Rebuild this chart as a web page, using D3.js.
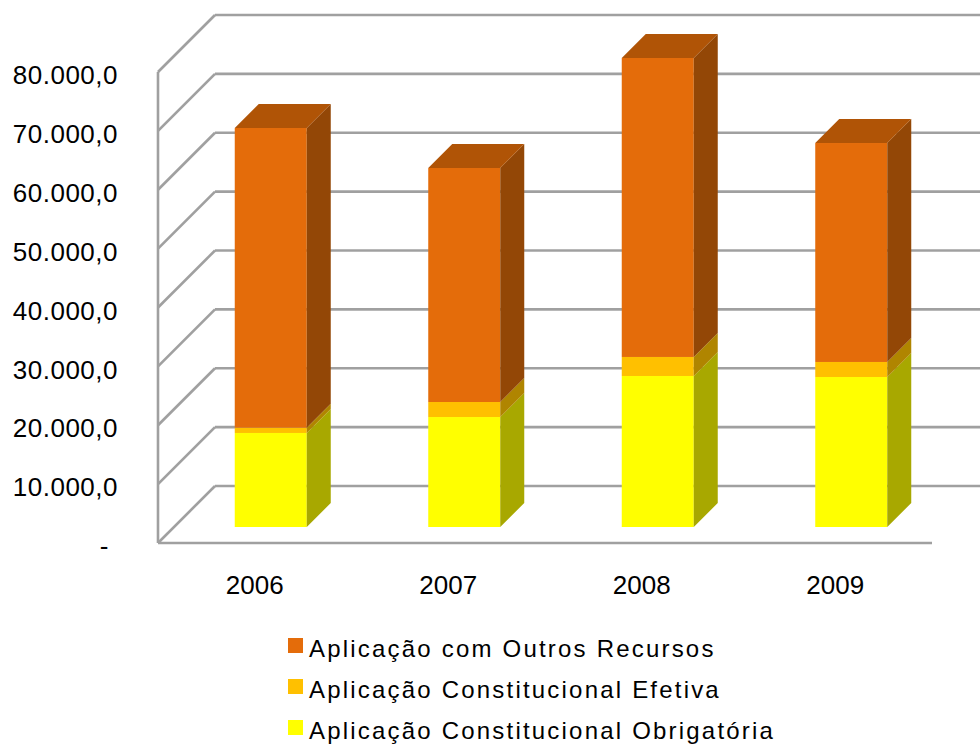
<!DOCTYPE html>
<html>
<head>
<meta charset="utf-8">
<script src="https://cdn.jsdelivr.net/npm/d3@7"></script>
<style>
  html, body { margin: 0; padding: 0; background: #fff; }
  svg { display: block; }
  text { font-family: "Liberation Sans", Arial, sans-serif; fill: #000; }
</style>
</head>
<body>
<svg id="chart" width="980" height="753"></svg>
<script>
// ---- data ----
const years = ["2006", "2007", "2008", "2009"];
const seriesNames = [
  "Aplicação Constitucional Obrigatória",
  "Aplicação Constitucional Efetiva",
  "Aplicação com Outros Recursos"
];
const obrigatoria = [15970, 18680, 25650, 25480];
const efetiva     = [900, 2550, 3230, 2550];
const outros      = [50900, 39750, 50780, 37190];
const yTicks = [0, 10000, 20000, 30000, 40000, 50000, 60000, 70000, 80000];
const legendOrder = ["Aplicação com Outros Recursos", "Aplicação Constitucional Efetiva", "Aplicação Constitucional Obrigatória"];

// ---- styles ----
const colors = {
  "Aplicação Constitucional Obrigatória": {front: "#FFFF00", side: "#A8A800", top: "#D8D800"},
  "Aplicação Constitucional Efetiva":     {front: "#FFC000", side: "#B08500", top: "#D9A300"},
  "Aplicação com Outros Recursos":        {front: "#E46C0A", side: "#934706", top: "#B05406"}
};
const gridColor = "#a0a0a0";

const svg = d3.select("#chart");
const WALL = 57;       // depth of the 3D walls
const BAR_D0 = 16;     // depth of bar front plane
const BAR_DEPTH = 24;  // bar depth
const BAR_W = 72;

const y = d3.scaleLinear().domain([0, 80000]).range([543, 72]);
const x = d3.scaleBand().domain(years).range([158, 932]);

// ---- walls / gridlines ----
const grid = svg.append("g").attr("fill", "none").attr("stroke", gridColor).attr("stroke-width", 2.6);
yTicks.forEach(v => {
  const yf = y(v);
  grid.append("line").attr("x1", 158 + WALL).attr("x2", 932 + WALL)
    .attr("y1", yf - WALL).attr("y2", yf - WALL);
  grid.append("line").attr("x1", 158).attr("y1", yf)
    .attr("x2", 158 + WALL).attr("y2", yf - WALL);
});
grid.append("line").attr("x1", 158).attr("x2", 158).attr("y1", y(80000)).attr("y2", y(0));
grid.append("line").attr("x1", 158).attr("x2", 932).attr("y1", y(0)).attr("y2", y(0));

// ---- bars ----
const stackData = years.map((yr, i) => ({
  year: yr,
  "Aplicação Constitucional Obrigatória": obrigatoria[i],
  "Aplicação Constitucional Efetiva": efetiva[i],
  "Aplicação com Outros Recursos": outros[i]
}));
const stacked = d3.stack().keys(seriesNames)(stackData);

const bars = svg.append("g");
years.forEach((yr, i) => {
  const cx = x(yr) + x.bandwidth() / 2 + BAR_D0;
  const x0 = cx - BAR_W / 2, x1 = cx + BAR_W / 2;
  const g = bars.append("g");
  stacked.forEach((layer, li) => {
    const c = colors[layer.key];
    const v0 = layer[i][0], v1 = layer[i][1];
    const yb = y(v0) - BAR_D0, yt = y(v1) - BAR_D0;
    g.append("rect").attr("x", x0).attr("y", yt).attr("width", BAR_W).attr("height", yb - yt)
      .attr("fill", c.front);
    g.append("polygon").attr("points", [
      [x1, yb], [x1, yt], [x1 + BAR_DEPTH, yt - BAR_DEPTH], [x1 + BAR_DEPTH, yb - BAR_DEPTH]
    ].map(p => p.join(",")).join(" ")).attr("fill", c.side);
    if (li === stacked.length - 1) {
      g.append("polygon").attr("points", [
        [x0, yt], [x1, yt], [x1 + BAR_DEPTH, yt - BAR_DEPTH], [x0 + BAR_DEPTH, yt - BAR_DEPTH]
      ].map(p => p.join(",")).join(" ")).attr("fill", c.top);
    }
  });
});

// ---- y axis labels ----
const loc = d3.formatLocale({decimal: ",", thousands: ".", grouping: [3], currency: ["R$", ""]});
const fmt = loc.format(",.1f");
const yAxis = d3.axisLeft(y).tickValues(yTicks).tickSize(0).tickPadding(0)
  .tickFormat(v => v === 0 ? "-" : fmt(v));
const yg = svg.append("g").attr("transform", "translate(118,0)").call(yAxis);
yg.select(".domain").remove();
yg.selectAll("text")
  .style("font-family", '"Liberation Sans", Arial, sans-serif')
  .style("font-size", "26px")
  .style("letter-spacing", "0.5px")
  .attr("fill", "#000")
  .attr("dy", "0.45em")
  .attr("dx", v => v === 0 ? -9 : 0);

// ---- x axis labels ----
const xAxis = d3.axisBottom(x).tickSize(0).tickPadding(0);
const xg = svg.append("g").attr("transform", "translate(0,585)").call(xAxis);
xg.select(".domain").remove();
xg.selectAll("text")
  .style("font-family", '"Liberation Sans", Arial, sans-serif')
  .style("font-size", "26px")
  .attr("fill", "#000")
  .attr("y", 0)
  .attr("dy", "0.35em");

// ---- legend ----
const lg = svg.append("g");
legendOrder.forEach((name, i) => {
  const by = 657 + i * 41;
  lg.append("rect").attr("x", 288).attr("y", by - 19).attr("width", 15).attr("height", 15)
    .attr("fill", colors[name].front);
  lg.append("text").attr("x", 309).attr("y", by)
    .style("font-size", "24px").style("letter-spacing", "2.2px")
    .text(name);
});
</script>
</body>
</html>
